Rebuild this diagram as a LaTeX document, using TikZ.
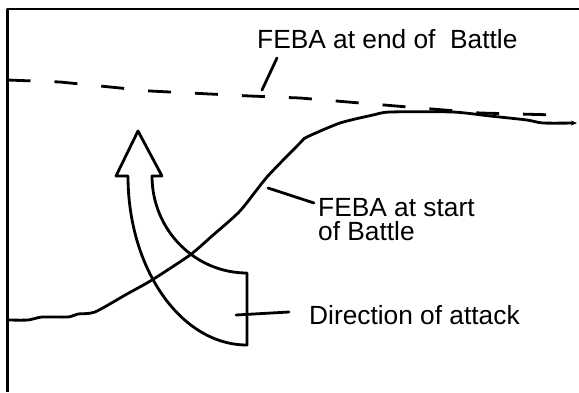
\documentclass[tikz,border=0pt]{standalone}
\usepackage{fontspec}
\setmainfont{Liberation Sans}
\usetikzlibrary{arrows.meta}
\tikzset{
  ln/.style={line width=2.8pt, line join=round, line cap=round},
  lbl/.style={font=\fontsize{26.3}{24.5}\selectfont, inner sep=0pt, text=black},
  dashline/.style={line width=2.8pt, dash pattern=on 23pt off 24pt}
}
\begin{document}
\begin{tikzpicture}[x=1pt,y=-1pt]
\useasboundingbox (0,0) rectangle (579,392);
% frame
\draw[ln, line cap=butt] (579,9) -- (7.5,9) -- (7.5,392);
% labels
\node[lbl, anchor=base west] (endlbl) at (257,48) {FEBA at end of\ \ Battle};
\node[lbl, anchor=north west, align=left] (startlbl) at (318,198) {FEBA at start\\of Battle};
\node[lbl, anchor=base west] (attlbl) at (309,324) {Direction of attack};
% FEBA at end of battle (dashed)
\draw[dashline] (7.5,80) -- (60,82) -- (150,91) -- (250,96) -- (300,98) -- (420,108) -- (480,113) -- (557,115);
\coordinate (endA) at (277,58);
\coordinate (endB) at (262,90);
\draw[ln] (endA) -- (endB);
% FEBA at start of battle (solid)
\draw[ln, -{Stealth[length=6pt,width=5pt]}] plot[smooth, tension=0.4] coordinates {
 (7.5,320) (28,320) (42,317) (68,317) (78,314) (95,312) (127,294) (152,280)
 (190,255) (212,236) (240,211) (267,177) (300,143) (307,137)
 (340,123) (373,115) (390,112) (453,112) (490,116) (527,120) (543,123) (577,123)};
\coordinate (stA) at (268,188);
\coordinate (stB) at (314,203);
\draw[ln] (stA) -- (stB);
% direction of attack arrow
\coordinate (tip) at (138,131);
\draw[ln] (tip) -- (162,176) -- (152,176)
  .. controls (152,229.6) and (194.6,273) .. (247,273)
  -- (247,345)
  .. controls (181.3,345) and (128,269.3) .. (128,176)
  -- (116,176) -- cycle;
\coordinate (atA) at (236,315);
\coordinate (atB) at (289,312);
\draw[ln] (atA) -- (atB);
\end{tikzpicture}
\end{document}
